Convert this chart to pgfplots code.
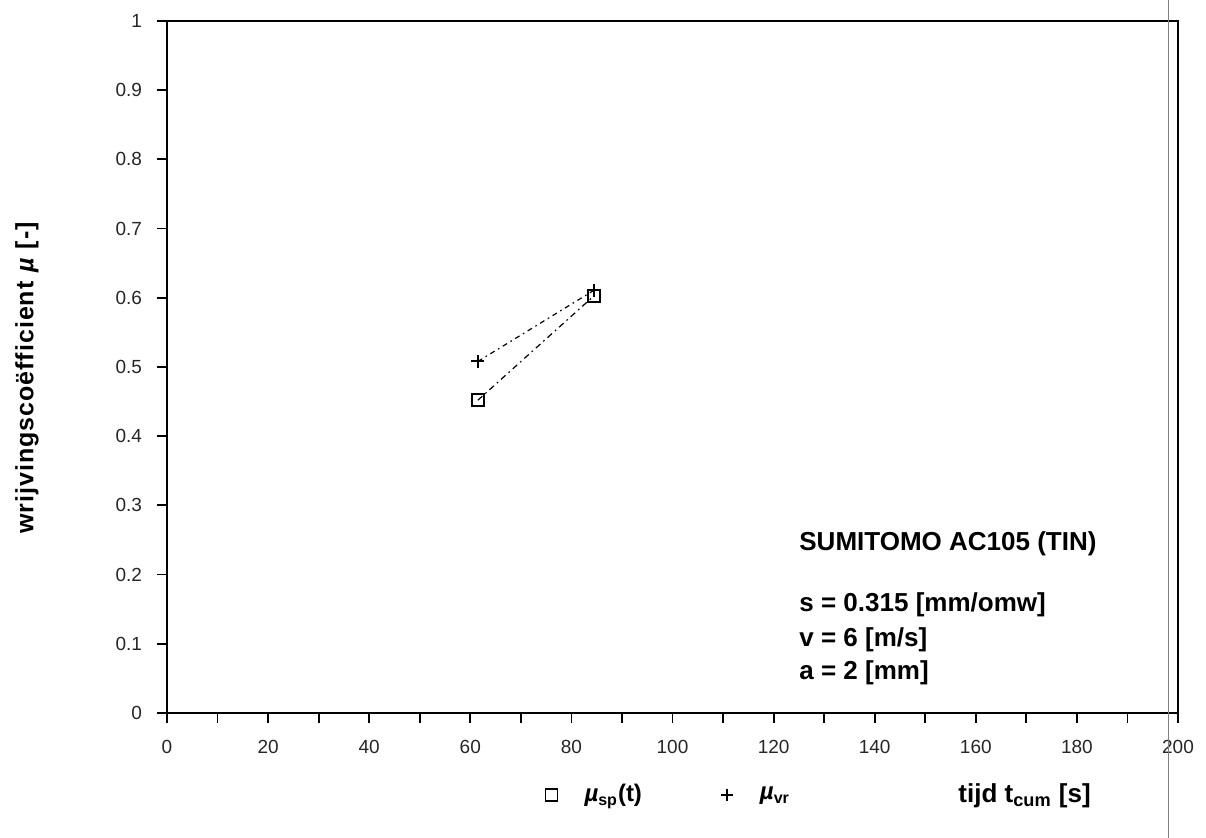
\documentclass[border=0pt]{standalone}
\usepackage{fontspec}
\setmainfont{Liberation Sans}
\usepackage{pgfplots}
\pgfplotsset{compat=1.18}

% friction coefficient measurements
\pgfplotstableread{
t     mu
61.5  0.452
84.5  0.603
}\musp
\pgfplotstableread{
t     mu
61.5  0.508
84.5  0.611
}\muvr

\newcommand{\mub}{\textbf{\textit{µ}}}

\begin{document}
\begin{tikzpicture}[x=1pt,y=1pt]
\path[use as bounding box] (0,0) rectangle (603,419);
\begin{axis}[
  at={(83.5pt,62.5pt)}, anchor=south west,
  scale only axis, width=505.5pt, height=346pt,
  xmin=0, xmax=200, ymin=0, ymax=1,
  axis line style={line width=1.1pt},
  xtick={0,20,...,200},
  minor xtick={10,30,...,190},
  ytick={0,0.1,...,1.0},
  yticklabels={0,0.1,0.2,0.3,0.4,0.5,0.6,0.7,0.8,0.9,1},
  tick align=outside,
  major tick length=5pt, minor tick length=5pt,
  xtick pos=bottom, ytick pos=left,
  every tick/.style={line width=0.9pt, black},
  /pgf/number format/assume math mode=true,
  tick label style={font=\fontsize{9.5}{11}\selectfont, text=black!85},
  xticklabel style={yshift=-5pt},
  yticklabel style={xshift=-4pt},
  legend style={draw=none, fill=none, inner sep=0pt,
    at={(0.374,-0.118)}, anchor=west,
    font=\bfseries\fontsize{12}{14}\selectfont,
    legend columns=2,
    /tikz/every odd column/.append style={column sep=11.5pt},
    /tikz/every even column/.append style={column sep=37.5pt}},
  legend cell align=left,
  legend image code/.code={\draw[#1] plot coordinates {(0.15cm,0cm)};},
]
\addplot[black, line width=0.6pt, dash pattern=on 3pt off 2pt on 0.8pt off 2pt,
  mark=square, mark size=3pt, mark options={solid, line width=1pt}, forget plot]
  table[x=t, y=mu] {\musp};
\addplot[black, line width=0.6pt, dash pattern=on 2.5pt off 2pt on 0.8pt off 2pt,
  mark=+, mark size=3.2pt, mark options={solid, line width=1pt}, forget plot]
  table[x=t, y=mu] {\muvr};
\addlegendimage{only marks, black, mark=square, mark size=3pt, mark options={line width=0.9pt}}
\addlegendentry{\mub\textsubscript{sp}(t)}
\addlegendimage{only marks, black, mark=+, mark size=3pt, mark options={line width=0.9pt}}
\addlegendentry{\mub\textsubscript{vr}}
\end{axis}

% axis titles
\node[rotate=90, font=\bfseries\fontsize{12.5}{14}\selectfont\addfontfeature{LetterSpace=4}]
  at (13.5,230) {wrijvingscoëfficient \mub{} [-]};
\node[anchor=base west, font=\bfseries\fontsize{13}{15}\selectfont, inner sep=0pt]
  at (479,17.5) {tijd t\textsubscript{cum} [s]};

% test conditions
\begin{scope}[every node/.style={anchor=base west, inner sep=0pt,
    font=\bfseries\fontsize{13}{15}\selectfont}]
\node at (399.5,143.5) {SUMITOMO AC105 (TIN)};
\node at (399.5,113) {s = 0.315 [mm/omw]};
\node at (399.5,95.5) {v = 6 [m/s]};
\node at (399.5,79) {a = 2 [mm]};
\end{scope}

% thin vertical rule at the right margin
\draw[gray, line width=0.5pt] (584,0) -- (584,419);
\end{tikzpicture}
\end{document}
